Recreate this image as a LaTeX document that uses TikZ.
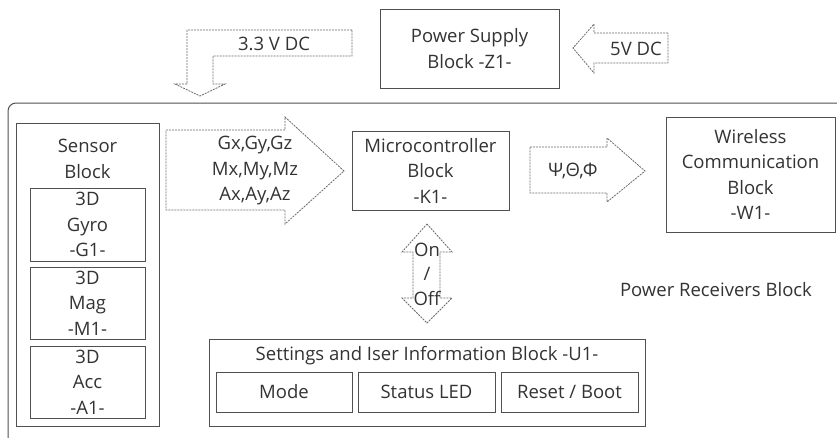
\documentclass[tikz,border=0pt]{standalone}
\usepackage{fontspec}
\setmainfont{Open Sans}
\usepackage{tikz}
\usetikzlibrary{positioning,calc}
\usepackage{xcolor}

\definecolor{linegray}{HTML}{505050}
\definecolor{textgray}{HTML}{333333}

\tikzset{
  blockbox/.style={draw=linegray, line width=1pt, rectangle, align=center, text=textgray, inner sep=0pt},
  flowarrow/.style={draw=linegray!85, line width=0.8pt, dash pattern=on 2pt off 1pt, line join=miter},
  plaintext/.style={align=center, text=textgray, inner sep=0pt}
}

\begin{document}
\begin{tikzpicture}[x=1pt, y=-1pt, font=\fontsize{18.5}{25.5}\selectfont]
            \useasboundingbox (0,0) rectangle (837,437);
            \clip (0,0) rectangle (837,437);

            % Power receivers (outer frame)
            \draw[linegray, line width=1pt, rounded corners=8pt] (8,103) rectangle (870,460);
            \node[plaintext] (receivers) at (716,290) {Power Receivers Block};

            % Power supply
            \node[blockbox, minimum width=179pt, minimum height=79pt] (psu) at (469.5,48.5) {Power Supply\\Block -Z1-};

            % Sensor block and sensors
            \node[blockbox, minimum width=143pt, minimum height=303pt] (sensor) at (87.5,274.5) {};
            \node[plaintext] (sensortitle) at (87.5,159) {Sensor\\Block};
            \node[blockbox, minimum width=115pt, minimum height=73pt] (gyro) at (87.5,224.5) {3D\\Gyro\\-G1-};
            \node[blockbox, minimum width=115pt, minimum height=72pt] (mag) at (87.5,303) {3D\\Mag\\-M1-};
            \node[blockbox, minimum width=115pt, minimum height=72pt] (acc) at (87.5,382) {3D\\Acc\\-A1-};

            % Microcontroller and wireless
            \node[blockbox, minimum width=157pt, minimum height=79pt] (mcu) at (430.5,170.5) {Microcontroller\\Block\\-K1-};
            \node[blockbox, minimum width=169pt, minimum height=115pt] (wireless) at (750.5,174.5) {Wireless\\Communication\\Block\\-W1-};

            % Settings block
            \node[blockbox, minimum width=436pt, minimum height=87pt] (settings) at (427,382.5) {};
            \node[plaintext] (settingstitle) at (427,356) {Settings and Iser Information Block -U1-};
            \node[blockbox, minimum width=136pt, minimum height=40pt] (mode) at (284,392) {Mode};
            \node[blockbox, minimum width=137pt, minimum height=40pt] (status) at (426.5,392) {Status LED};
            \node[blockbox, minimum width=137pt, minimum height=40pt] (reset) at (569.5,392) {Reset / Boot};

            % Supply arrows
            \draw[flowarrow] (668,33) -- (594,33) -- (594,24) -- (573,48) -- (594,73) -- (594,63) -- (668,63) -- cycle;
            \node[plaintext] (fivev) at (636,49) {5V DC};
            \draw[flowarrow] (352,30) -- (187,30) -- (187,84) -- (175,84) -- (200,96) -- (225,84) -- (213,84) -- (213,56) -- (352,56) -- cycle;
            \node[plaintext] (threev) at (274,44) {3.3 V DC};

            % Data arrows
            \draw[flowarrow] (166,130) -- (285,130) -- (285,117) -- (344,171) -- (285,224) -- (285,210) -- (166,210) -- cycle;
            \node[plaintext] (rawdata) at (255,171) {Gx,Gy,Gz\\Mx,My,Mz\\Ax,Ay,Az};
            \draw[flowarrow] (530,147) -- (607,147) -- (607,138) -- (645,171) -- (607,202) -- (607,193) -- (530,193) -- cycle;
            \node[plaintext] (angles) at (573,171) {Ψ,Θ,Φ};

            % On/Off arrow
            \draw[flowarrow] (427,224) -- (452,252) -- (440,252) -- (440,298) -- (452,298) -- (427,323) -- (402,298) -- (413,298) -- (413,252) -- (402,252) -- cycle;
            \node[plaintext, font=\fontsize{18.5}{24.5}\selectfont] (onoff) at (427,274) {On\\/\\Off};
        \end{tikzpicture}
\end{document}
